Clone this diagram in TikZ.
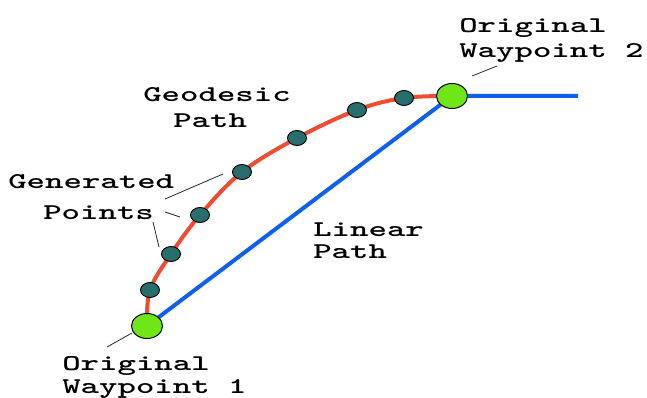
\documentclass[tikz,border=0pt]{standalone}
\usepackage{fontspec}
\usetikzlibrary{shapes.geometric}
\definecolor{geored}{RGB}{240,76,48}
\definecolor{linblue}{RGB}{16,96,240}
\definecolor{wpgreen}{RGB}{110,230,24}
\definecolor{ptteal}{RGB}{40,110,108}
\begin{document}
\begin{tikzpicture}[x=1pt,y=-1pt,
  lab/.style={anchor=base west,inner sep=0pt,xscale=1.56,transform shape,font=\ttfamily\bfseries\fontsize{22.5}{24}\selectfont},
  wp/.style={ellipse,draw=black,line width=1pt,fill=wpgreen,minimum width=31pt,minimum height=25pt,inner sep=0pt},
  gp/.style={ellipse,draw=black,line width=0.9pt,fill=ptteal,minimum width=19pt,minimum height=15pt,inner sep=0pt},
  leader/.style={draw=black!85,line width=0.8pt},
  geopath/.style={draw=geored,line width=4pt},
  linpath/.style={draw=linblue,line width=4pt}]
\useasboundingbox (0,0) rectangle (647,398);
\coordinate (a) at (147,326);
\coordinate (b) at (452,96);
\coordinate (p1) at (150,290);
\coordinate (p2) at (171,254);
\coordinate (p3) at (200,215);
\coordinate (p4) at (242,172);
\coordinate (p5) at (297,138);
\coordinate (p6) at (357,110);
\coordinate (p7) at (404,98);
\coordinate (bend) at (578,96);
% paths
\draw[geopath] plot[smooth,tension=0.6] coordinates {(a) (p1) (p2) (p3) (p4) (p5) (p6) (p7) (b)};
\draw[linpath] (a) -- (b) -- (bend);
% generated points
\foreach \i in {1,...,7} { \node[gp] (g\i) at (p\i) {}; }
% waypoints
\node[wp] (w1) at (a) {};
\node[wp] (w2) at (b) {};
% labels
\node[lab] (wp2a) at (459,33) {Original};
\node[lab] (wp2b) at (459,58) {Waypoint 2};
\node[lab] (geoa) at (143,102) {Geodesic};
\node[lab] (geob) at (173,128) {Path};
\node[lab] (gena) at (8,188) {Generated};
\node[lab] (genb) at (43,219) {Points};
\node[lab] (lina) at (313,236) {Linear};
\node[lab] (linb) at (313,258) {Path};
\node[lab] (wp1a) at (62,370) {Original};
\node[lab] (wp1b) at (62,393) {Waypoint 1};
% leader lines
\coordinate (l1s) at (165,199);
\coordinate (l1e) at (223,174);
\coordinate (l2s) at (165,212);
\coordinate (l2e) at (180,217);
\coordinate (l3s) at (153,222);
\coordinate (l3e) at (159,247);
\coordinate (l4s) at (107,347);
\coordinate (l4e) at (132,333);
\coordinate (l5s) at (472,76);
\coordinate (l5e) at (497,66);
\draw[leader] (l1s) -- (l1e);
\draw[leader] (l2s) -- (l2e);
\draw[leader] (l3s) -- (l3e);
\draw[leader] (l4s) -- (l4e);
\draw[leader] (l5s) -- (l5e);
\end{tikzpicture}
\end{document}
